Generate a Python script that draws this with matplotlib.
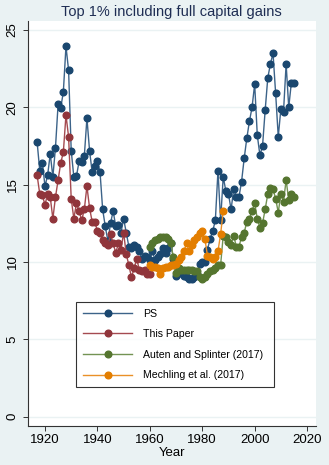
import matplotlib
matplotlib.use("Agg")
import matplotlib.pyplot as plt
from matplotlib.lines import Line2D

plt.rcParams['font.family'] = ['Liberation Sans', 'DejaVu Sans']

# ---------------- data ----------------
ps_years = list(range(1917, 2016))
ps_vals = [17.75, 15.9, 16.4, 14.9, 15.6, 17.0, 15.5, 17.4, 20.2, 19.95,
           21.0, 23.94, 22.4, 17.2, 15.5, 15.55, 16.5, 16.45, 16.85, 19.3,
           17.2, 15.8, 16.2, 16.5, 15.8, 13.4, 12.3, 11.35, 12.5, 13.3,
           12.3, 12.4, 11.9, 12.8, 11.9, 11.0, 10.9, 11.1, 11.0, 10.7,
           10.2, 10.4, 10.3, 10.1, 10.7, 10.1, 10.3, 10.5, 10.9, 10.6,
           10.9, 11.2, 10.2, 9.1, 9.3, 9.3, 9.1, 9.0, 8.9, 8.9,
           9.0, 9.2, 9.9, 10.0, 10.0, 10.8, 11.5, 12.0, 12.7, 15.9,
           12.7, 15.5, 14.6, 14.4, 13.4, 14.7, 14.2, 14.2, 15.2, 16.7,
           18.0, 19.1, 20.0, 21.5, 18.2, 16.9, 17.5, 19.8, 21.9, 22.8,
           23.5, 20.9, 18.1, 19.9, 19.7, 22.8, 20.0, 21.6, 21.6]

tp_years = list(range(1917, 1961))
tp_vals = [15.6, 14.4, 14.3, 13.7, 14.4, 14.2, 12.8, 14.2, 15.3, 16.4,
           17.1, 19.5, 18.1, 14.1, 12.8, 13.8, 13.3, 12.7, 13.4, 14.9,
           13.5, 12.6, 12.6, 12.0, 11.9, 11.4, 11.2, 11.1, 11.8, 11.2,
           10.6, 11.2, 10.8, 11.9, 10.5, 9.8, 9.0, 9.6, 10.2, 9.5,
           9.4, 9.5, 9.2, 9.2]

as_years = list(range(1960, 2016))
as_vals = [11.0, 11.2, 11.4, 11.5, 11.6, 11.6, 11.6, 11.5, 11.2, 10.3,
           9.3, 9.6, 9.5, 9.5, 9.5, 9.5, 9.5, 9.4, 9.4, 9.0,
           8.9, 9.0, 9.2, 9.4, 9.5, 9.6, 9.8, 9.8, 11.7, 11.6,
           11.3, 11.1, 11.7, 11.0, 11.0, 11.6, 11.9, 12.6, 12.8, 13.3,
           13.8, 12.8, 12.2, 12.5, 13.4, 14.4, 14.8, 14.7, 14.1, 13.2,
           14.4, 13.9, 15.3, 14.0, 14.4, 14.2]

me_years = list(range(1960, 1989))
me_vals = [9.8, 9.7, 9.7, 9.6, 9.2, 9.6, 9.7, 9.7, 9.8, 9.8,
           9.9, 10.1, 10.3, 10.7, 11.2, 10.7, 11.1, 11.4, 11.6, 11.9,
           12.0, 11.5, 10.4, 10.3, 10.2, 10.3, 10.7, 11.8, 13.3]

labels = ["PS", "This Paper", "Auten and Splinter (2017)", "Mechling et al. (2017)"]
colors = ["#1A476F", "#90353B", "#55752F", "#E37E00"]
line_colors = ["#3C6389", "#A44A50", "#739353", "#EA9028"]

x_ticks = [1920, 1940, 1960, 1980, 2000, 2020]
y_ticks = [0, 5, 10, 15, 20, 25]

# ---------------- figure ----------------
W, H = 329, 465
fig = plt.figure(figsize=(W / 100, H / 100), dpi=100, facecolor="#EAF2F3")
l, r, t, b = 27.7, 316, 21, 426
ax = fig.add_axes([l / W, 1 - b / H, (r - l) / W, (b - t) / H])
ax.set_facecolor("white")

series = [(ps_years, ps_vals), (tp_years, tp_vals), (as_years, as_vals), (me_years, me_vals)]
for (xs, ys), c, lc, lab in zip(series, colors, line_colors, labels):
    ax.plot(xs, ys, color=lc, lw=1.0, marker="o", ms=4.8, mec=c, mfc=c, label=lab, zorder=3)

ax.set_xlim(1913.4, 2023.4)
ax.set_ylim(-0.6, 25.58)
ax.set_xticks(x_ticks)
ax.set_yticks(y_ticks)
ax.set_yticklabels([str(v) for v in y_ticks], rotation=90, va="center")
ax.tick_params(axis="both", labelsize=9.5, length=3.5, width=0.7, color="#333333",
               labelcolor="black")
ax.tick_params(axis="y", pad=3)
ax.tick_params(axis="x", pad=2)
ax.grid(axis="y", color="#EAF2F3", lw=1.0, zorder=0)
ax.grid(axis="x", visible=False)
for s in ["top", "right"]:
    ax.spines[s].set_visible(False)
for s in ["left", "bottom"]:
    ax.spines[s].set_color("#333333")
    ax.spines[s].set_linewidth(0.8)

ax.set_xlabel("Year", fontsize=9.5, labelpad=1)
fig.text((l + r) / 2 / W, 1 - 12 / H, "Top 1% including full capital gains",
         ha="center", va="center", fontsize=10.5, color="#1E2D53")

handles = [Line2D([0], [0], color=lc, lw=1.0, marker="o", ms=4.8, mfc=c, mec=c)
           for c, lc in zip(colors, line_colors)]
x0 = (76 - l) / (r - l)
x1 = (274 - l) / (r - l)
ytop = (b - 301.7) / (b - t)
leg = ax.legend(handles, labels, loc="upper left",
                bbox_to_anchor=(x0, ytop - 0.3, x1 - x0, 0.3), mode="expand",
                frameon=True, fancybox=False, edgecolor="black", fontsize=7.6,
                handlelength=4.7, handletextpad=1.0, labelspacing=1.0,
                borderpad=0.65, numpoints=1, borderaxespad=0)
leg.get_frame().set_linewidth(0.8)

fig.savefig("out.png", dpi=100, facecolor=fig.get_facecolor())
